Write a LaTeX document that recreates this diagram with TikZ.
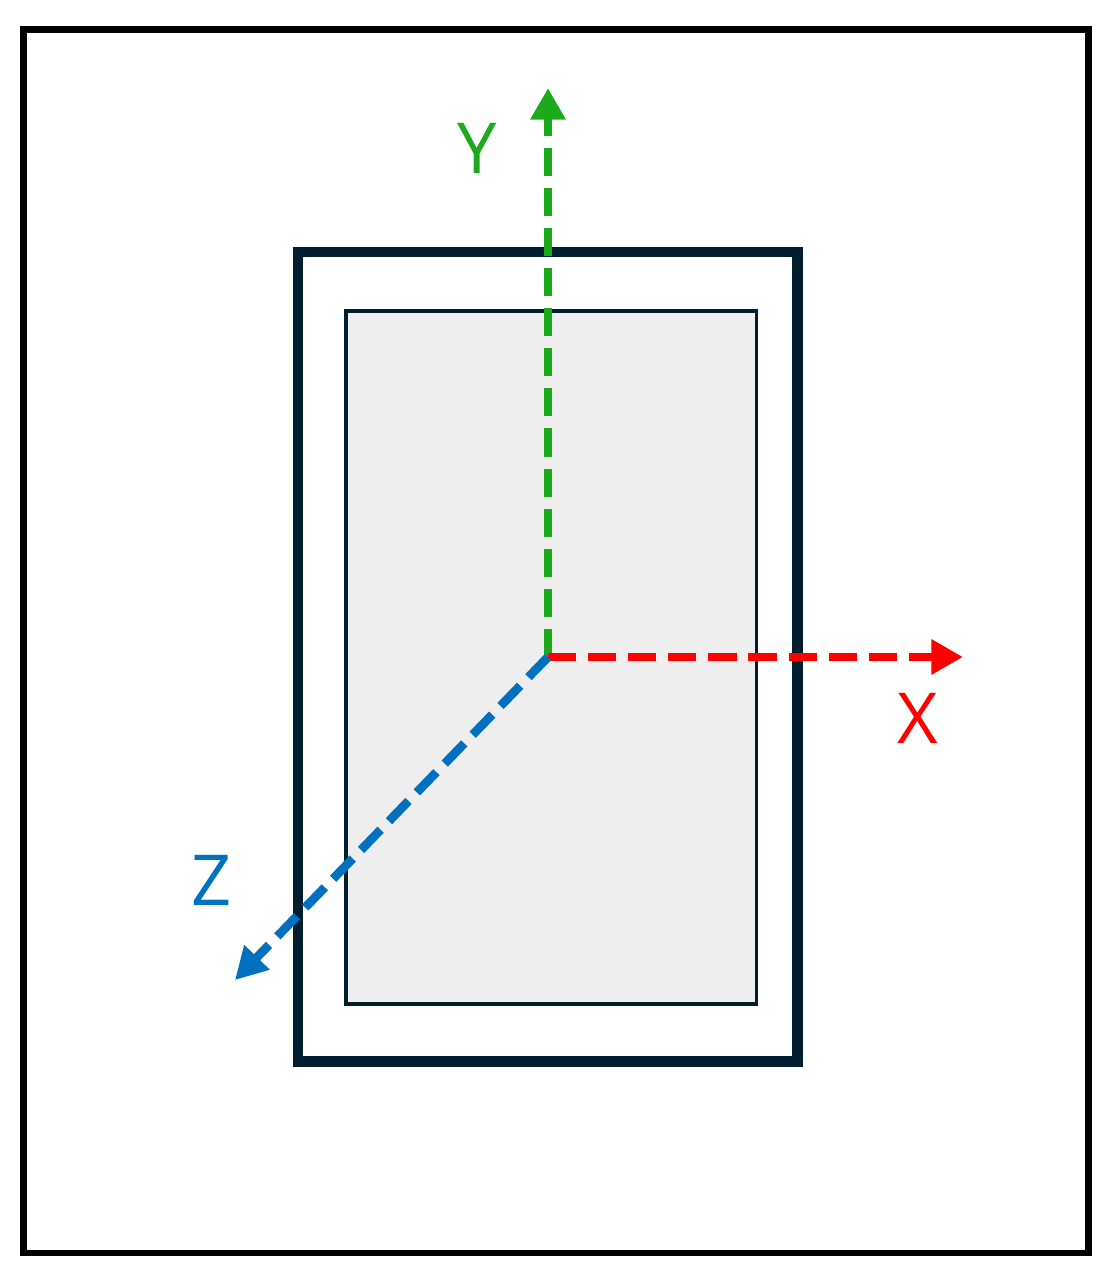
\documentclass[tikz,border=0pt]{standalone}
\usepackage{fontspec}
\setmainfont{Open Sans}
\usetikzlibrary{arrows.meta}
\definecolor{axisgreen}{RGB}{26,170,26}
\definecolor{axisred}{RGB}{255,0,0}
\definecolor{axisblue}{RGB}{0,112,192}
\definecolor{beamnavy}{RGB}{0,30,46}
\definecolor{beamfill}{RGB}{238,238,238}
\begin{document}
\begin{tikzpicture}[x=0.01cm,y=-0.01cm,
  axis/.style={line width=2.5pt,dash pattern=on 8pt off 3.4pt,-{Triangle[length=9pt,width=9.5pt]}},
  axislabel/.style={font=\fontsize{20}{24}\selectfont,inner sep=0pt}]
\useasboundingbox (0,0) rectangle (1113,1280);
% frame
\draw[line width=1.8pt] (23.5,29.5) rectangle (1088.5,1253);
% cross section
\draw[beamnavy,line width=3.1pt] (298,252) rectangle (797.5,1061.5);
\draw[beamnavy,fill=beamfill,line width=1.1pt] (346,311) rectangle (756.5,1004);
% axes
\coordinate (o) at (548,657);
\coordinate (ytip) at (548,88);
\coordinate (xtip) at (963,657);
\coordinate (ztip) at (235,980);
\draw[axis,axisgreen] (o) -- (ytip);
\draw[axis,axisred] (o) -- (xtip);
\draw[axis,axisblue] (o) -- (ztip);
\node[axislabel,text=axisgreen] (ylab) at (477,148) {Y};
\node[axislabel,text=axisred] (xlab) at (918,718) {X};
\node[axislabel,text=axisblue] (zlab) at (212,880) {Z};
\end{tikzpicture}
\end{document}
